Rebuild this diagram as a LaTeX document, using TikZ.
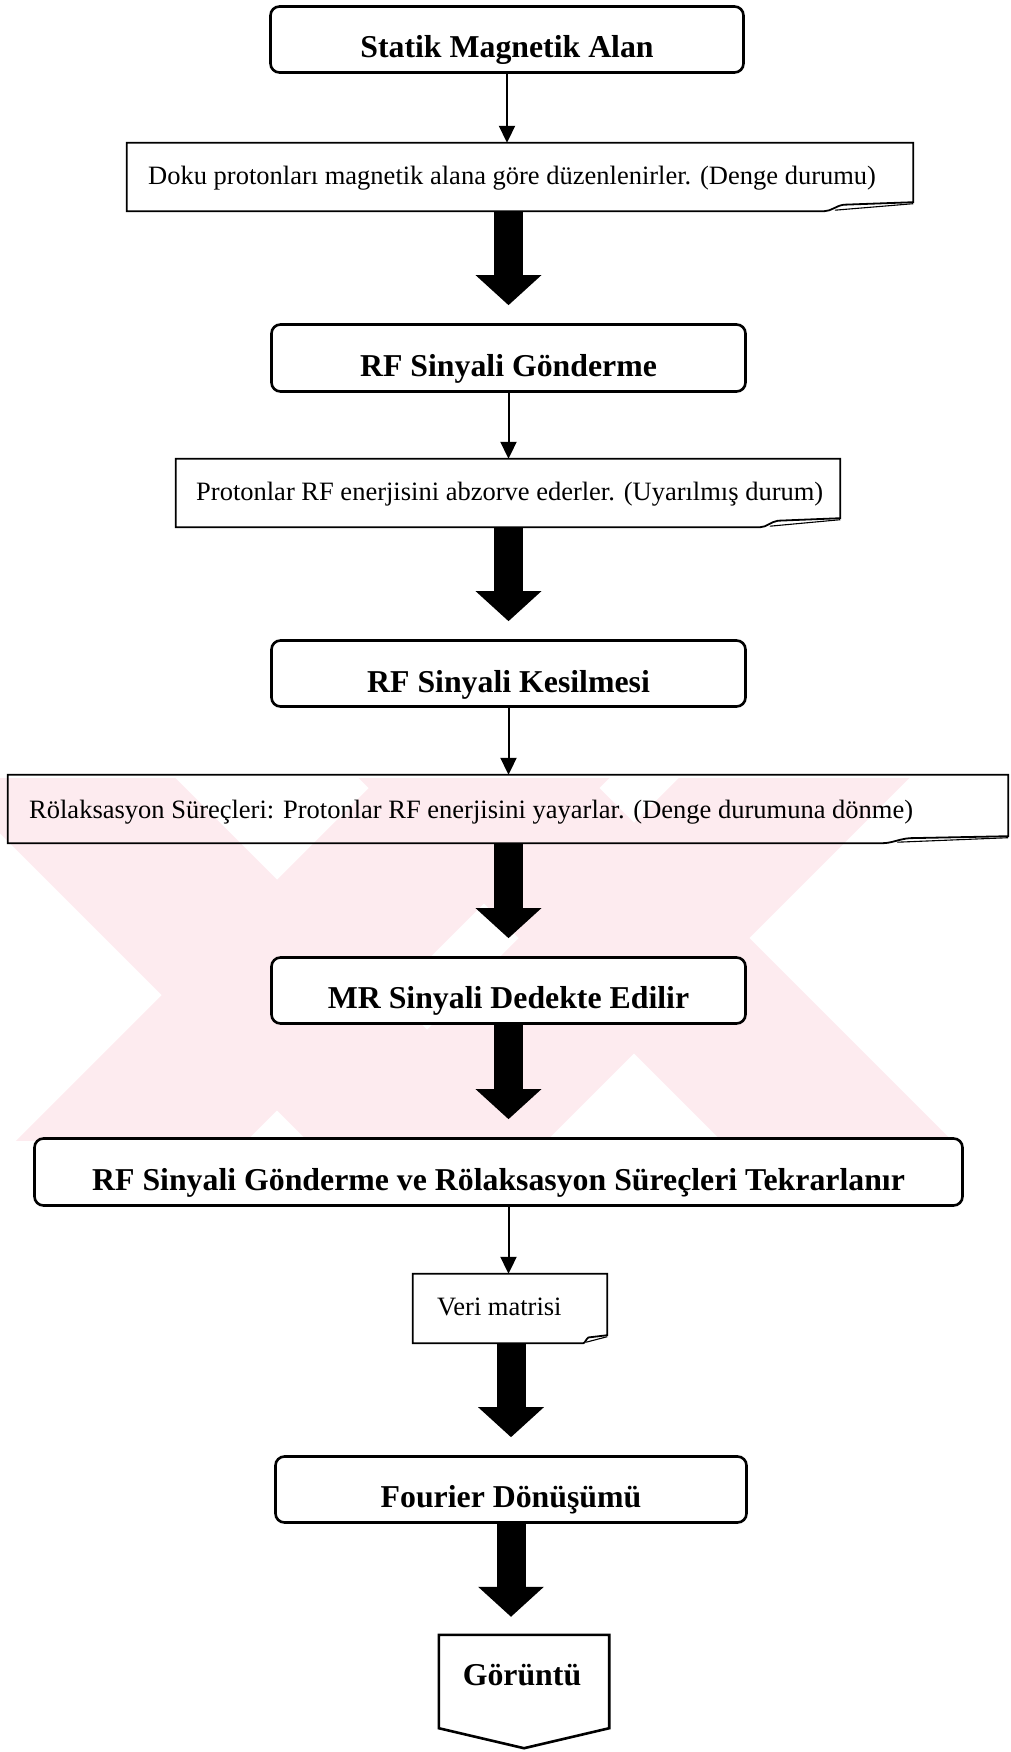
\documentclass[tikz,border=0pt]{standalone}
\usepackage{fontspec}
\setmainfont{Liberation Serif}
\usetikzlibrary{arrows.meta}
\definecolor{wmpink}{RGB}{253,235,239}
\tikzset{
  flowbox/.style={draw, line width=2.6pt, rounded corners=9pt, fill=white, inner sep=0pt},
  notearea/.style={inner sep=0pt, draw=none},
  noteline/.style={line width=1.8pt, line join=miter},
  foldline/.style={line width=1.1pt},
  shapeline/.style={line width=2.6pt, line join=miter, fill=white},
  titletext/.style={font=\fontsize{31.8}{36}\selectfont\bfseries, inner sep=0pt, anchor=base},
  notetext/.style={font=\fontsize{26.5}{30}\selectfont, inner sep=0pt, anchor=base west},
  thinarrow/.style={line width=2pt, -{Triangle[width=16pt,length=17pt]}},
  thickarrow/.style={line width=29pt, -{Triangle[width=64pt,length=30pt]}, shorten >=18pt},
  wmband/.style={wmpink, line width=163pt},
}
% #1 node name, #2 fold width, #3 rise of the folded corner
\newcommand{\foldnote}[3]{%
  \draw[noteline] (#1.south west) -- ([xshift=-#2pt]#1.south east)
     .. controls ([xshift={-#2pt+0.08*#2pt}]#1.south east)
        and ([xshift={-#2pt+0.13*#2pt},yshift={0.6*#3pt}]#1.south east)
     .. ([xshift={-#2pt+0.22*#2pt},yshift={0.72*#3pt}]#1.south east)
     -- ([yshift=#3pt]#1.south east) -- (#1.north east) -- (#1.north west) -- cycle;
  \draw[foldline] ([xshift={-#2pt+0.12*#2pt},yshift=1pt]#1.south east)
     -- ([yshift={#3pt-1.5pt}]#1.south east);
}
\begin{document}
\begin{tikzpicture}[x=1pt,y=-1pt]
\useasboundingbox (0,0) rectangle (1010,1752);

% watermark
\begin{scope}
  \clip (0,778) rectangle (1010,1140);
  \draw[wmband] (-23,695) -- (577,1295);
  \draw[wmband] (-23,1295) -- (577,695);
  \draw[wmband] (334,638) -- (934,1238);
  \draw[wmband] (334,1238) -- (934,638);
\end{scope}

% note areas
\node[notearea, minimum width=786pt, minimum height=68pt] (n1) at (520,177) {};
\node[notearea, minimum width=664pt, minimum height=68pt] (n2) at (508,493) {};
\node[notearea, minimum width=1000pt, minimum height=68pt] (n3) at (508,809) {};
\node[notearea, minimum width=194pt, minimum height=69pt] (n4) at (510,1308.5) {};
\foldnote{n1}{89}{9}
\foldnote{n2}{80}{9}
\foldnote{n3}{126}{7}
\foldnote{n4}{24}{8}

% process boxes
\node[flowbox, minimum width=473pt, minimum height=66pt] (b1) at (507,39.5) {};
\node[flowbox, minimum width=474pt, minimum height=67pt] (b2) at (508.5,358) {};
\node[flowbox, minimum width=474pt, minimum height=66pt] (b3) at (508.5,673.5) {};
\node[flowbox, minimum width=474pt, minimum height=66pt] (b4) at (508.5,990.5) {};
\node[flowbox, minimum width=928pt, minimum height=67pt] (b5) at (498.5,1172) {};
\node[flowbox, minimum width=471pt, minimum height=66pt] (b6) at (511,1489.5) {};

% final (off-page) shape
\node[notearea, minimum width=170pt, minimum height=93pt] (g) at (524,1681.5) {};
\draw[shapeline] (g.south west) -- (g.north west) -- (g.north east) -- (g.south east)
   -- ([yshift=-20pt]g.south) -- cycle;

% texts
\node[titletext] (t1) at (507,58) {Statik Magnetik Alan};
\node[titletext] (t2) at (508.5,376) {RF Sinyali Gönderme};
\node[titletext] (t3) at (508.5,692) {RF Sinyali Kesilmesi};
\node[titletext] (t4) at (508.5,1008) {MR Sinyali Dedekte Edilir};
\node[titletext] (t5) at (498.5,1190) {RF Sinyali Gönderme ve Rölaksasyon Süreçleri Tekrarlanır};
\node[titletext] (t6) at (511,1507) {Fourier Dönüşümü};
\node[titletext] (tg) at (522,1685) {Görüntü};

\node[notetext] (nt1) at (148,185) {Doku protonları magnetik alana göre düzenlenirler. (Denge durumu)};
\node[notetext] (nt2) at (196,500) {Protonlar RF enerjisini abzorve ederler. (Uyarılmış durum)};
\node[notetext] (nt3) at (29,818) {Rölaksasyon Süreçleri: Protonlar RF enerjisini yayarlar. (Denge durumuna dönme)};
\node[notetext] (nt4) at (437,1315) {Veri matrisi};

% thin connectors
\draw[thinarrow] (b1.south) -- (b1.south |- n1.north);
\draw[thinarrow] (b2.south) -- (b2.south |- n2.north);
\draw[thinarrow] (b3.south) -- (b3.south |- n3.north);
\draw[thinarrow] (b4.south |- b5.south) -- (b4.south |- n4.north);

% thick connectors
\draw[thickarrow] (b2.north |- n1.south) -- (b2.north);
\draw[thickarrow] (b3.north |- n2.south) -- (b3.north);
\draw[thickarrow] (b4.north |- n3.south) -- (b4.north);
\draw[thickarrow] (b4.south) -- (b4.south |- b5.north);
\draw[thickarrow] (b6.north |- n4.south) -- (b6.north);
\draw[thickarrow] (b6.south) -- (b6.south |- g.north);
\end{tikzpicture}
\end{document}
